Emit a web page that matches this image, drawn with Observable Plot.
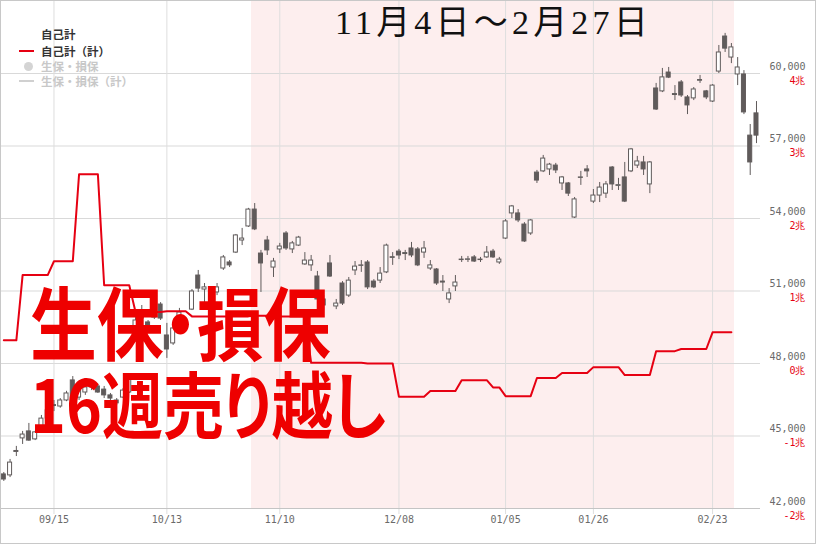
<!DOCTYPE html>
<html><head><meta charset="utf-8">
<script src="https://cdn.jsdelivr.net/npm/d3@7"></script>
<script src="https://cdn.jsdelivr.net/npm/@observablehq/plot@0.6"></script>
<style>
body{margin:0;background:#fff;}
#wrap{position:relative;width:816px;height:544px;overflow:hidden;background:#fff;}
#chart svg{display:block;}
#frame{position:absolute;left:0;top:0;width:814px;height:542px;border:1px solid #c8c8c8;pointer-events:none;}
.lg{position:absolute;left:41px;font:bold 11.5px "Noto Sans CJK JP",sans-serif;line-height:14px;white-space:nowrap;}
.lgline{position:absolute;left:19px;width:15px;height:2px;}
#title{position:absolute;left:335px;top:3px;font:34px "Liberation Serif","Noto Sans CJK JP",serif;letter-spacing:4.2px;color:#111;white-space:nowrap;line-height:40px;}
#big{position:absolute;left:30px;top:280px;color:#ee0000;font-family:"Noto Sans CJK JP",sans-serif;font-weight:bold;font-feature-settings:"palt";white-space:nowrap;font-size:80px;line-height:79px;transform:scaleX(0.835);transform-origin:0 0;}
</style></head>
<body>
<div id="wrap">
<div id="chart"></div>
<div class="lg" style="top:27px;color:#333">自己計</div>
<div class="lgline" style="top:50px;background:#e60012"></div>
<div class="lg" style="top:44px;color:#333">自己計（計）</div>
<div style="position:absolute;left:24px;top:62px;width:9px;height:9px;border-radius:50%;background:#d4d4d4"></div>
<div class="lg" style="top:59px;color:#c8c8c8">生保・損保</div>
<div class="lgline" style="top:80px;background:#d0d0d0;height:1.5px"></div>
<div class="lg" style="top:74px;color:#c8c8c8">生保・損保（計）</div>
<div id="title">11月4日～2月27日</div>
<div id="big">生保・損保<br><span style="font-size:73px">16週売り越し</span></div>
<div id="frame"></div>
</div>
<script>
// trading days (daily candles)
const dates = [
"2025-09-03","2025-09-04","2025-09-05","2025-09-08","2025-09-09","2025-09-10","2025-09-11","2025-09-12",
"2025-09-16","2025-09-17","2025-09-18","2025-09-19","2025-09-22","2025-09-24","2025-09-25","2025-09-26",
"2025-09-29","2025-09-30","2025-10-01","2025-10-02","2025-10-03","2025-10-06","2025-10-07","2025-10-08",
"2025-10-09","2025-10-10","2025-10-14","2025-10-15","2025-10-16","2025-10-17","2025-10-20","2025-10-21",
"2025-10-22","2025-10-23","2025-10-24","2025-10-27","2025-10-28","2025-10-29","2025-10-30","2025-10-31",
"2025-11-04","2025-11-05","2025-11-06","2025-11-07","2025-11-10","2025-11-11","2025-11-12","2025-11-13",
"2025-11-14","2025-11-17","2025-11-18","2025-11-19","2025-11-20","2025-11-21","2025-11-25","2025-11-26",
"2025-11-27","2025-11-28","2025-12-01","2025-12-02","2025-12-03","2025-12-04","2025-12-05","2025-12-08",
"2025-12-09","2025-12-10","2025-12-11","2025-12-12","2025-12-15","2025-12-16","2025-12-17","2025-12-18",
"2025-12-19","2025-12-22","2025-12-23","2025-12-24","2025-12-25","2025-12-26","2025-12-29","2025-12-30",
"2026-01-05","2026-01-06","2026-01-07","2026-01-08","2026-01-09","2026-01-13","2026-01-14","2026-01-15",
"2026-01-16","2026-01-19","2026-01-20","2026-01-21","2026-01-22","2026-01-23","2026-01-26","2026-01-27",
"2026-01-28","2026-01-29","2026-01-30","2026-02-02","2026-02-03","2026-02-04","2026-02-05","2026-02-06",
"2026-02-09","2026-02-10","2026-02-12","2026-02-13","2026-02-16","2026-02-17","2026-02-18","2026-02-19",
"2026-02-20","2026-02-24","2026-02-25","2026-02-26","2026-02-27","2026-03-02","2026-03-03","2026-03-04",
"2026-03-05"];
const open = [
43410,43370,44340,44900,45190,44860,45270,45720,46240,46220,46470,47300,46590,46800,47010,47050,
46920,46680,46470,46590,46800,49200,49860,49700,49900,50440,49160,48830,49950,49610,50230,51640,
51060,50500,50940,51930,52180,52590,53090,53670,54370,52550,53090,51970,52720,53380,52720,52880,
52100,52060,51600,50650,52140,50360,51310,50810,51850,52040,52180,51390,51430,51770,52370,52630,
52530,52760,52720,52590,51930,51890,51390,50650,51190,52280,52290,52390,52280,52390,52630,52180,
53170,54210,54210,53750,53380,55900,55950,56030,56190,55450,55450,54040,55680,56030,54700,54950,
55030,56110,55350,55700,55950,56190,56320,55410,59380,59260,60040,59110,59630,59010,58970,59700,
59260,58840,60080,61530,60660,59960,59960,57430,58350];
const high = [
43490,44030,44570,45190,45520,45190,45850,46150,46470,46550,46850,47460,47050,47130,47260,47130,
47050,46760,46550,46960,47550,49900,50400,49780,50480,50520,49660,49530,50280,49900,51060,51850,
51310,50610,51310,52470,52260,53340,53590,54420,54620,52680,53260,52350,52970,53460,53050,53260,
52590,52470,51810,50810,52470,50650,51390,51560,52220,52260,52260,51470,51970,52940,52590,52720,
52680,53010,52800,53050,52260,51930,51640,51100,51640,52430,52430,52470,52390,52840,52720,52390,
53960,54540,54370,53830,53960,55990,56610,56280,56280,55740,55490,54870,55950,56190,55200,55490,
55530,56150,55660,56320,56900,56570,56570,56360,59590,60210,60250,59500,59710,59090,59420,59920,
59300,59540,61160,61660,61240,60660,60120,57890,58840];
const low = [
43120,43280,44150,44650,44780,44810,45230,45680,46010,46150,46420,45930,46470,46680,46880,46760,
46550,46470,46260,46550,46760,49120,49780,49450,49820,49780,48210,48750,49740,49490,50190,50940,
50480,50320,50810,51850,51970,52550,52880,53630,53500,50940,52470,51560,52550,52680,52550,52840,
52060,51810,50610,50190,51560,50230,50400,50730,51640,51770,51060,51100,51310,51720,52060,52300,
52260,52380,52010,52350,51850,51230,50980,50480,50980,52180,52180,52180,52180,52350,52350,52100,
53130,54000,53830,53010,53300,55450,55900,55780,55860,55160,54910,54000,55370,55700,54620,54660,
54830,55160,55160,54660,55900,56070,55780,55030,58470,59210,59790,58880,59010,58300,58880,59590,
58920,58800,60000,60870,60410,59500,58300,55780,57100];
const close = [
43200,43900,44380,45060,44810,45150,45720,46060,46280,46470,46760,46550,46920,47010,47130,46800,
46680,46550,46350,46880,47460,49780,50190,49570,50400,49860,48580,49450,50110,49780,50980,51100,
51150,50480,51150,52390,52060,53300,53170,54370,53550,52140,52680,52220,52840,52760,52970,53210,
52260,52260,50650,50400,51600,50480,50480,51430,52010,52060,51150,51150,51720,52880,52400,52470,
52570,52470,52060,52760,52060,51310,51350,50900,51350,52300,52310,52220,52300,52590,52390,52300,
53880,54500,53920,53050,53920,55570,56480,56230,55990,55700,55030,54790,55700,55950,54950,55280,
55410,55410,55380,54700,56860,56360,56030,56320,58510,59840,59830,59150,59090,58680,59340,59730,
59010,59500,60870,61030,61080,60250,58390,56320,57430];

// 自己計（計）: weekly cumulative, 兆円
const weekStarts = ["2025-09-01","2025-09-08","2025-09-15","2025-09-22","2025-09-29","2025-10-06","2025-10-13",
"2025-10-20","2025-10-27","2025-11-03","2025-11-10","2025-11-17","2025-11-24","2025-12-01","2025-12-08",
"2025-12-15","2025-12-22","2025-12-29","2026-01-05","2026-01-12","2026-01-19","2026-01-26","2026-02-02",
"2026-02-09","2026-02-16","2026-02-23"];
const jikoCum = [0.32,1.22,1.41,2.61,1.08,0.71,0.72,0.65,0.65,0.66,0.65,0.01,0.01,0.00,-0.46,-0.38,-0.23,-0.33,
-0.45,-0.20,-0.13,-0.05,-0.16,0.17,0.20,0.43];

const priceTicks = [42000,45000,48000,51000,54000,57000,60000];
const trillionLabels = ["-2兆","-1兆","0兆","1兆","2兆","3兆","4兆"];
const tickDates = ["2025-09-15","2025-10-13","2025-11-10","2025-12-08","2026-01-05","2026-01-26","2026-02-23"];
const tickLabels = ["09/15","10/13","11/10","12/08","01/05","01/26","02/23"];
const highlight = {start:"2025-11-04", end:"2026-02-27"};

// ---- build ----
const idxOf = d => dates.findIndex(x => x >= d);
const candles = dates.map((d,i)=>({i, o:open[i], h:high[i], l:low[i], c:close[i]}));
const addDays = (s,n)=>{const t=new Date(s+"T00:00:00Z"); t.setUTCDate(t.getUTCDate()+n); return t.toISOString().slice(0,10);};
const redPts = [];
weekStarts.forEach((ws,w)=>{
  const we = addDays(ws,7);
  dates.forEach((d,i)=>{ if (d>=ws && d<we) redPts.push({i, v:jikoCum[w]}); });
});
const tickIdx = tickDates.map(idxOf);
const hl = [{x1: idxOf(highlight.start)-0.5, x2: idxOf(highlight.end)+0.5}];
const toPrice = t => 48000 + t*3000;
const dark = "#605b5b";
const mono = "DejaVu Sans Mono";

const plot = Plot.plot({
  width: 816, height: 544,
  marginLeft: 0, marginRight: 56, marginTop: 0, marginBottom: 36,
  x: {type:"linear", domain:[-0.526, 120.64], axis:null},
  y: {domain:[42000, 63021], axis:null},
  marks: [
    Plot.rect(hl, {x1:"x1", x2:"x2", fill:"#fdeeee"}),
    Plot.ruleY(priceTicks.slice(1), {stroke:"#d9d9d9", strokeWidth:1}),
    Plot.ruleX(tickIdx, {stroke:"#dedede", strokeWidth:1, insetBottom:-6}),
    Plot.ruleY([42000], {stroke:"#c4c4c4", strokeWidth:1}),
    Plot.ruleX(candles, {x:"i", y1:"l", y2:"h", stroke:dark, strokeWidth:1}),
    Plot.rect(candles, {x1:d=>d.i-0.32, x2:d=>d.i+0.32, y1:"o", y2:"c",
      fill:d=>d.c<d.o?dark:"#ffffff", stroke:dark, strokeWidth:1}),
    Plot.line(redPts, {x:"i", y:d=>toPrice(d.v), stroke:"#e60012", strokeWidth:2}),
    Plot.text(priceTicks, {y:d=>d, text:d=>d3.format(",")(d), frameAnchor:"right", dx:45, dy:-7,
      textAnchor:"end", fill:"#6a6a6a", fontFamily:mono, fontSize:10}),
    Plot.text(priceTicks, {y:d=>d, text:(d,i)=>trillionLabels[i], frameAnchor:"right", dx:45, dy:7,
      textAnchor:"end", fill:"#e60012", fontFamily:mono, fontSize:10}),
    Plot.text(tickIdx.map((x,k)=>({x, label:tickLabels[k]})), {x:"x", text:"label", frameAnchor:"bottom",
      dy:14, fill:"#6a6a6a", fontFamily:mono, fontSize:10})
  ]
});
document.getElementById("chart").appendChild(plot);
</script>
</body></html>
